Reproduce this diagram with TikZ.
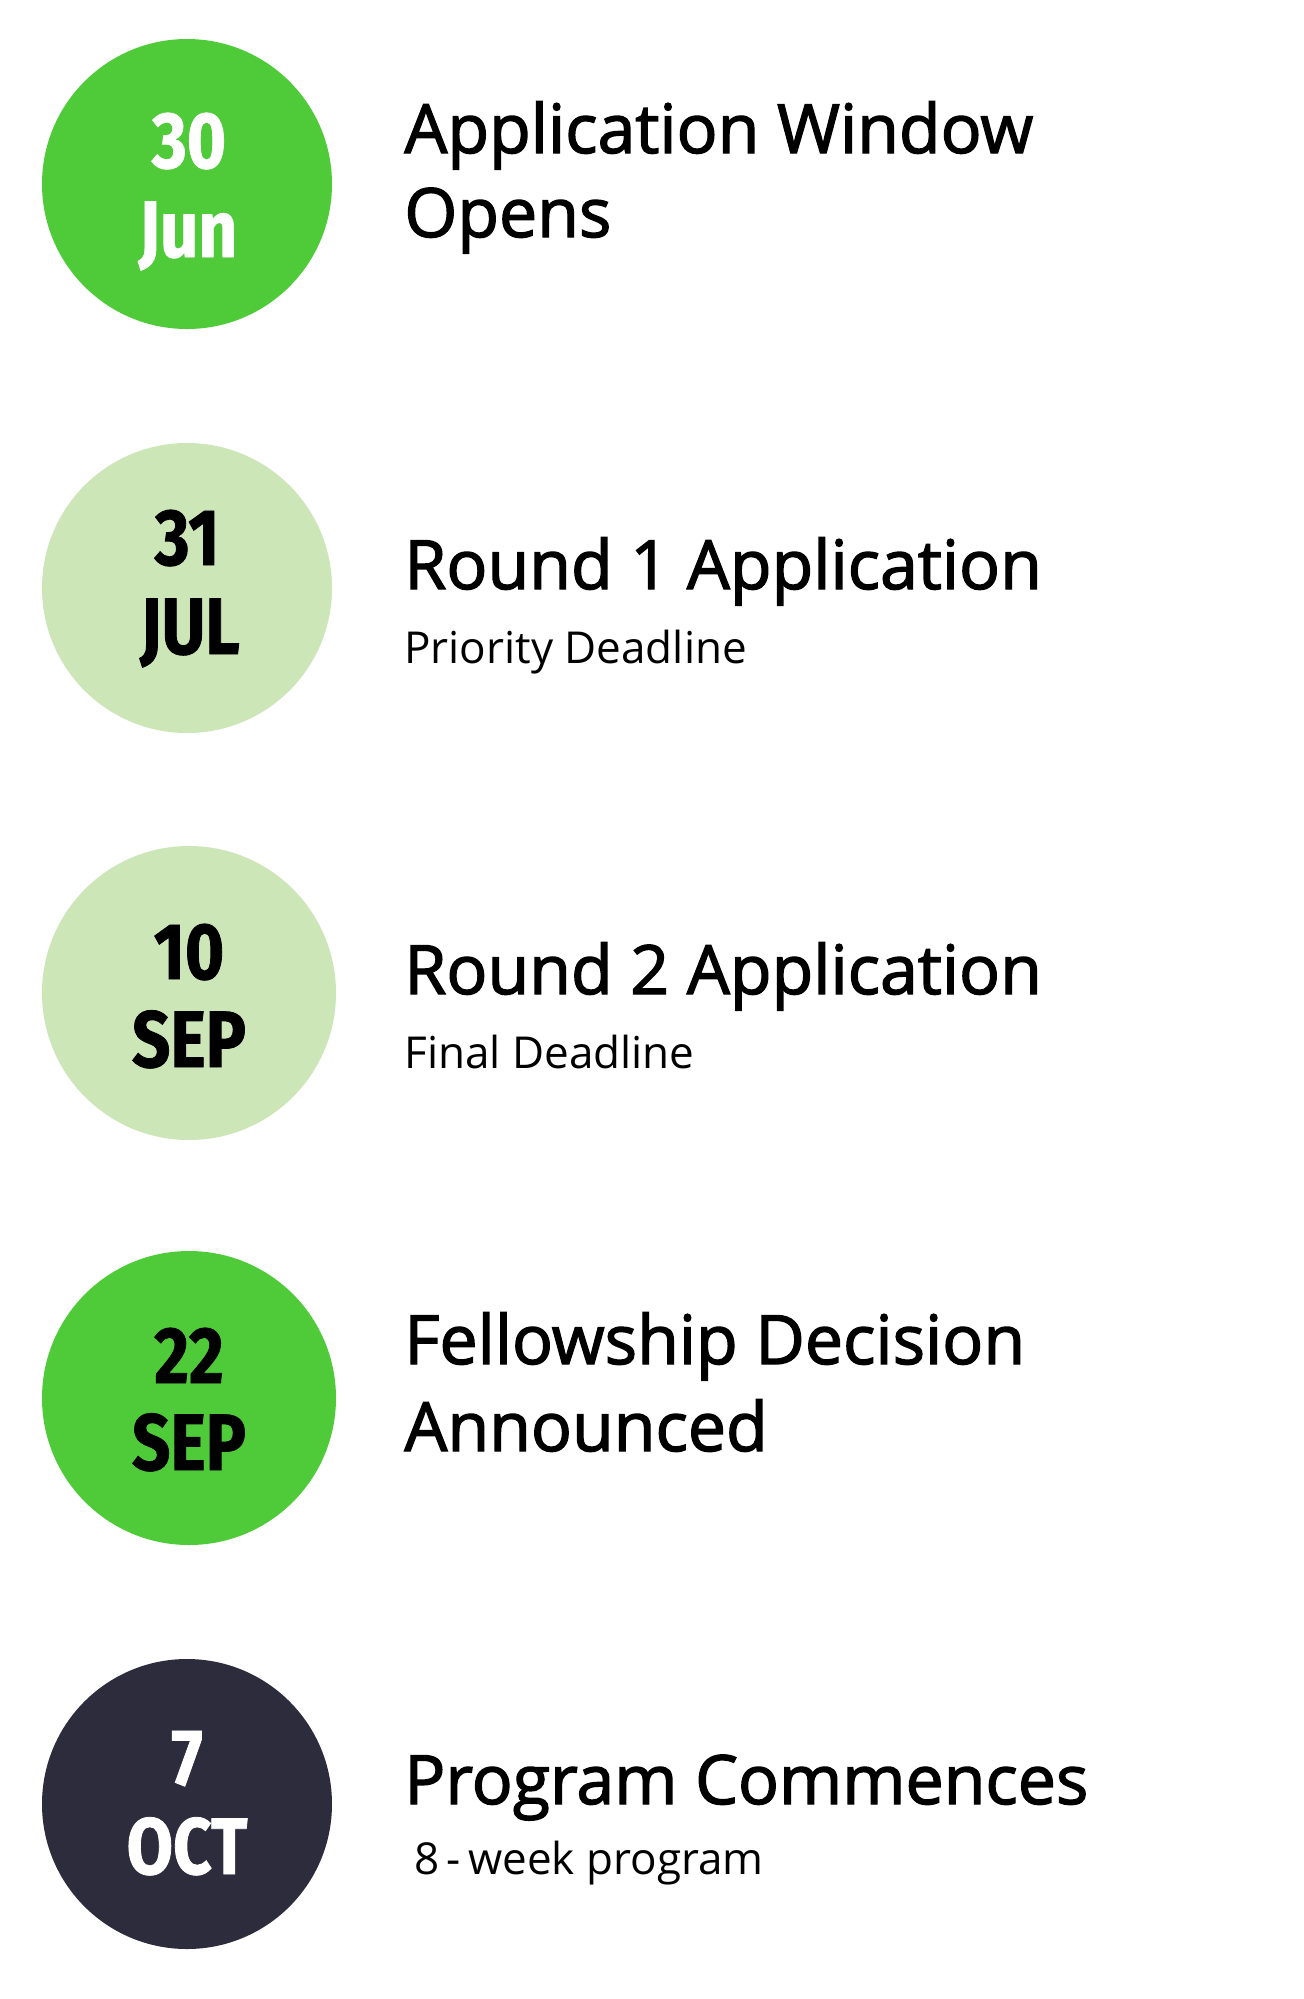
\documentclass[tikz,border=0pt]{standalone}
\usepackage{fontspec}
\setmainfont{Open Sans}
\newfontfamily\datefont[FakeStretch=0.84, FakeBold=1]{Fira Sans}
\newfontfamily\headfont[FakeBold=2]{Open Sans}

\definecolor{brightgreen}{HTML}{4FCB3A}
\definecolor{palegreen}{HTML}{CDE6B8}
\definecolor{darknavy}{HTML}{2C2C3D}

\tikzset{
	datecircle/.style={circle, minimum size=145pt, inner sep=0pt},
	daytext/.style={anchor=base, inner sep=0pt, font=\datefont\bfseries\fontsize{40}{40}\selectfont},
	headline/.style={anchor=base west, inner sep=0pt, font=\headfont\fontsize{34}{34}\selectfont},
	subline/.style={anchor=base west, inner sep=0pt, font=\fontsize{22}{22}\selectfont},
}

\begin{document}
\begin{tikzpicture}[x=0.5pt, y=-0.5pt]
		\useasboundingbox (0,0) rectangle (1304,1999);

		\node[datecircle, fill=brightgreen] (c1) at (187,184) {};
		\node[datecircle, fill=palegreen] (c2) at (187,588) {};
		\node[datecircle, fill=palegreen, minimum size=147pt] (c3) at (189,993) {};
		\node[datecircle, fill=brightgreen, minimum size=147pt] (c4) at (189,1398) {};
		\node[datecircle, fill=darknavy] (c5) at (187,1804) {};

		\node[daytext, text=white] (d1) at (189,168) {30};
		\node[daytext, text=white] (m1) at (188,257) {Jun};
		\node[daytext] (d2) at (187,565) {31};
		\node[daytext] (m2) at (190,654) {JUL};
		\node[daytext] (d3) at (189,979) {10};
		\node[daytext] (m3) at (189,1067) {SEP};
		\node[daytext] (d4) at (189,1383) {22};
		\node[daytext] (m4) at (189,1470) {SEP};
		\node[daytext, text=white] (d5) at (187,1785) {7};
		\node[daytext, text=white] (m5) at (187,1874) {OCT};

		\node[headline] (t1) at (404,153) {Application Window};
		\node[headline] (t1b) at (404,237) {Opens};

		\node[headline] (t2) at (404,589) {Round 1 Application};
		\node[subline] (s2) at (404,663) {Priority Deadline};

		\node[headline] (t3) at (404,994) {Round 2 Application};
		\node[subline] (s3) at (404,1068) {Final Deadline};

		\node[headline] (t4) at (404,1364) {Fellowship Decision};
		\node[headline] (t4b) at (404,1451) {Announced};

		\node[headline] (t5) at (404,1804) {Program Commences};
		\node[subline] (s5) at (414,1874) {8\,-\,week program};
	\end{tikzpicture}
\end{document}
